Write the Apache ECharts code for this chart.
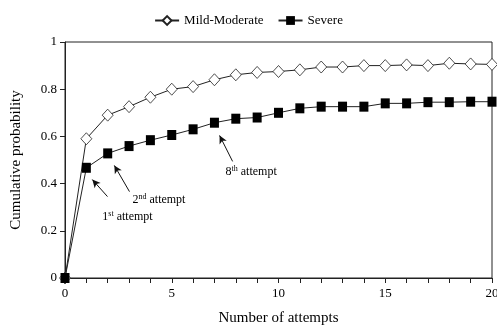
<!DOCTYPE html>
<html><head><meta charset="utf-8">
<script src="https://cdn.jsdelivr.net/npm/echarts@6/dist/echarts.min.js"></script>
<style>html,body{margin:0;padding:0;background:#fff}#c{width:497px;height:329px}</style>
</head><body><div id="c"></div>
<script>
const attempts = [0,1,2,3,4,5,6,7,8,9,10,11,12,13,14,15,16,17,18,19,20];
const mildModerate = [0,0.59,0.69,0.726,0.766,0.80,0.811,0.84,0.861,0.871,0.875,0.882,0.894,0.894,0.90,0.90,0.903,0.90,0.91,0.907,0.905];
const severe = [0,0.467,0.528,0.559,0.584,0.606,0.63,0.658,0.675,0.68,0.70,0.719,0.726,0.726,0.726,0.74,0.74,0.745,0.745,0.747,0.747];
const yTicks = [0,0.2,0.4,0.6,0.8,1];
// annotations: [label rich, text pos, arrow tail, arrow tip] in data units
const notes = [
  {t:'1{s|st} attempt', at:[1.75,0.26], tail:[1.99,0.345], tip:[1.28,0.417]},
  {t:'2{s|nd} attempt', at:[3.16,0.332], tail:[3.02,0.366], tip:[2.31,0.477]},
  {t:'8{s|th} attempt', at:[7.52,0.451], tail:[7.85,0.494], tip:[7.24,0.604]}
];
const F = '"Liberation Serif","Times New Roman",serif';
const chart = echarts.init(document.getElementById('c'));
const arrowLines = notes.map(n => [{coord:n.tail},{coord:n.tip}]);
chart.setOption({
  animation:false,
  textStyle:{fontFamily:F,color:'#000'},
  legend:{top:9,left:'center',itemWidth:24,itemHeight:11,itemGap:14,
    textStyle:{fontFamily:F,fontSize:13,color:'#000'},
    data:['Mild-Moderate','Severe']},
  grid:{left:65,right:5,top:42,bottom:51,show:true,borderColor:'#222',borderWidth:1,outerBoundsMode:'none',containLabel:false},
  xAxis:{type:'value',min:0,max:20,interval:1,
    name:'Number of attempts',nameLocation:'middle',nameGap:33,
    nameTextStyle:{fontFamily:F,fontSize:15,color:'#000'},
    axisLine:{lineStyle:{color:'#222'}},
    axisTick:{show:true,length:5,lineStyle:{color:'#222'}},
    splitLine:{show:false},
    axisLabel:{fontFamily:F,fontSize:13,color:'#000',margin:9,hideOverlap:false,
      formatter:v=> v%5===0 ? String(v) : ''}},
  yAxis:{type:'value',min:0,max:1,interval:0.2,
    name:'Cumulative probability',nameLocation:'middle',nameGap:41,
    nameTextStyle:{fontFamily:F,fontSize:15,color:'#000'},
    axisLine:{show:true,lineStyle:{color:'#222'}},
    axisTick:{show:true,length:5,lineStyle:{color:'#222'}},
    splitLine:{show:false},
    axisLabel:{fontFamily:F,fontSize:13,color:'#000',margin:8,
      formatter:v=> yTicks.indexOf(+v.toFixed(1))>=0 ? String(+v.toFixed(1)) : ''}},
  series:[
    {name:'Mild-Moderate',type:'line',data:attempts.map((x,i)=>[x,mildModerate[i]]),
     symbol:'diamond',symbolSize:[11,12],
     itemStyle:{color:'#fff',borderColor:'#222',borderWidth:0.8},
     lineStyle:{color:'#222',width:1}},
    {name:'Severe',type:'line',data:attempts.map((x,i)=>[x,severe[i]]),
     symbol:'rect',symbolSize:[9,10],
     itemStyle:{color:'#000',borderColor:'#000',borderWidth:0},
     lineStyle:{color:'#222',width:1},
     markLine:{silent:true,symbol:['none','arrow'],symbolSize:[6,8],
       label:{show:false},
       lineStyle:{color:'#111',width:1,type:'solid'},
       data:arrowLines}}
  ]
});
const g = notes.map(n=>{
  const p = chart.convertToPixel({gridIndex:0}, n.at);
  return {type:'text',x:p[0],y:p[1],
    style:{text:n.t,fontFamily:F,fontSize:12,fill:'#000',verticalAlign:'middle',
      rich:{s:{fontFamily:F,fontSize:8,verticalAlign:'top',padding:[0,0,6,0],fill:'#000'}}}};
});
chart.setOption({graphic:g});
</script></body></html>
